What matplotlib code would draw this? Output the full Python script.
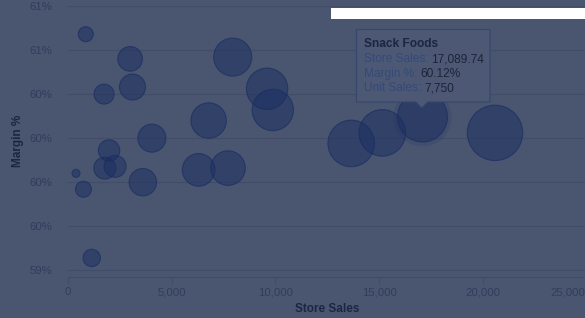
import matplotlib
matplotlib.use("Agg")
import matplotlib.pyplot as plt
from matplotlib.patches import Rectangle, Polygon
from matplotlib.transforms import offset_copy

# bubble data
store_sales = [869, 3007, 3122, 1752, 7949, 9604, 9879, 6790, 4054, 1993, 1786,
               2283, 401, 758, 3620, 6308, 7722, 1158, 13658, 15154, 17089.74, 20584]
margin_pct = [60.59, 60.45, 60.29, 60.25, 60.46, 60.28, 60.16, 60.10, 60.00, 59.93, 59.83,
              59.84, 59.80, 59.71, 59.75, 59.82, 59.83, 59.32, 59.97, 60.03, 60.12, 60.03]
unit_sales = [700, 1880, 2100, 1240, 4480, 5310, 5310, 3890, 2430, 1420, 1500,
              1500, 200, 790, 2330, 3300, 3710, 940, 6730, 6730, 7750, 9510]
hover_idx = 20
hover_name = "Snack Foods"

x_ticks = [0, 5000, 10000, 15000, 20000, 25000]
y_ticks = [59.25, 59.5, 59.75, 60.0, 60.25, 60.5, 60.75]
y_tick_labels = ["59%", "60%", "60%", "60%", "60%", "61%", "61%"]

W, H = 585, 318
BG = "#4a5670"
GRID = "#414d68"
AXIS = "#3d4c6e"
BUBBLE = (0.10, 0.18, 0.38)
LABEL = "#303d5c"
TITLE = "#1b2640"


def fx(px):
    return px / W


def fy(py):
    return 1 - py / H


plt.rcParams["font.family"] = ["Liberation Sans", "DejaVu Sans"]

fig = plt.figure(figsize=(W / 100, H / 100), dpi=100)
fig.patch.set_facecolor(BG)
ax = fig.add_axes([fx(67.7), fy(277), (586.7 - 67.7) / W, (277 - 6) / H])
ax.set_facecolor(BG)

# size ~ area proportional to unit sales
sizes = [1296 * z / 7750 for z in unit_sales]
ax.scatter([store_sales[hover_idx]], [margin_pct[hover_idx]], s=[sizes[hover_idx] * 1.35],
           color=BUBBLE, alpha=0.18, linewidths=0, zorder=2)
ax.scatter(store_sales, margin_pct, s=sizes, facecolors=[(*BUBBLE, 0.5)],
           edgecolors=[(*BUBBLE, 0.7)], linewidths=0.8, zorder=3)

ax.set_xlim(0, 25000)
ax.set_ylim(59.212, 60.75)
ax.set_xticks(x_ticks)
ax.set_xticklabels([f"{v:,}" for v in x_ticks])
ax.set_yticks(y_ticks)
ax.set_yticklabels(y_tick_labels)
ax.grid(axis="y", color=GRID, linewidth=0.8)
ax.set_axisbelow(True)
for side in ("top", "right", "left"):
    ax.spines[side].set_visible(False)
ax.spines["bottom"].set_color(AXIS)
ax.spines["bottom"].set_linewidth(0.8)
ax.tick_params(axis="x", colors=AXIS, length=5, width=0.8, labelcolor=LABEL,
               labelsize=8.2, pad=2.5)
ax.tick_params(axis="y", length=0, labelcolor=LABEL, labelsize=8.2, pad=11)
# last x label is pushed inside the chart edge
last = ax.get_xticklabels()[-1]
last.set_ha("right")
last.set_transform(offset_copy(last.get_transform(), fig=fig, x=-1, y=0, units="dots"))

fig.text(fx(327), fy(309), "Store Sales", ha="center", va="center",
         fontsize=8.5, fontweight="bold", color=TITLE)
fig.text(fx(18), fy(141), "Margin %", ha="center", va="center", rotation=90,
         fontsize=8.5, fontweight="bold", color=TITLE)

# white bar at the top right
fig.patches.append(Rectangle((fx(331), fy(19.3)), fx(585) - fx(331), fy(8.3) - fy(19.3),
                             transform=fig.transFigure, facecolor="white",
                             edgecolor="none", zorder=5))

# tooltip with a notch pointing to the hovered bubble
L, T, R, B, tipx, tipy = 356.5, 29.5, 490, 102, 421.7, 108
box = [(L, T), (R, T), (R, B), (tipx + 6, B), (tipx, tipy), (tipx - 6, B), (L, B)]
fig.patches.append(Polygon([(fx(a), fy(b)) for a, b in box], closed=True,
                           transform=fig.transFigure, facecolor="#4c5874",
                           edgecolor="#34466e", linewidth=0.8, zorder=6))
fig.text(fx(363.5), fy(44.3), hover_name, ha="left", va="center", fontsize=8.6,
         fontweight="bold", color=TITLE, zorder=7)
rows = [("Store Sales:", f"{store_sales[hover_idx]:,.2f}"),
        ("Margin %:", f"{margin_pct[hover_idx]:.2f}%"),
        ("Unit Sales:", f"{unit_sales[hover_idx]:,}")]
fig.canvas.draw()
for i, (lab, val) in enumerate(rows):
    ypos = fy(59.3 + 14.5 * i)
    t = fig.text(fx(363.5), ypos, lab, ha="left", va="center",
                 fontsize=8.6, color="#354a78", zorder=7)
    bb = t.get_window_extent(renderer=fig.canvas.get_renderer())
    fig.text((bb.x1 + 3.3) / fig.bbox.width, ypos, val, ha="left", va="center",
             fontsize=8.6, color="#1c2438", zorder=7)

fig.savefig("out.png", dpi=100, facecolor=BG)
